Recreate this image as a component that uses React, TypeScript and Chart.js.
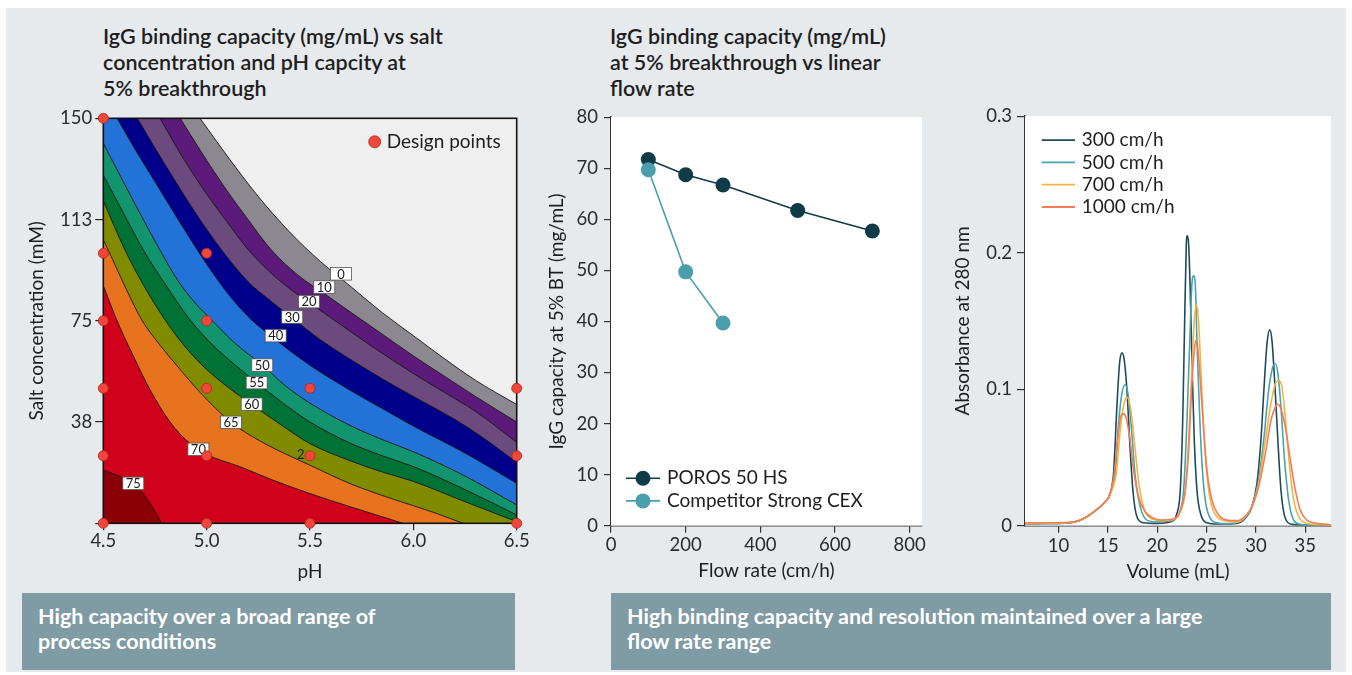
import React, { useEffect, useRef } from "react";
import { Chart, registerables } from "chart.js";

Chart.register(...registerables);

const FONT_FAMILY = "Lato, 'Noto Sans', sans-serif";
const TEXT_DARK = "#1e1e1e";
const TICK_COLOR = "#2b2b2b";
const TICK_SIZE = 18.5;
const AXIS_TITLE_SIZE = 19;
const LEGEND_SIZE = 19;

// ---------- Contour plot: IgG capacity vs pH and salt ----------
const PH_MIN = 4.5;
const PH_MAX = 6.5;
const SALT_MIN = 0;
const SALT_MAX = 150;
const PH_TICKS = [4.5, 5.0, 5.5, 6.0, 6.5];
const SALT_TICKS = [0, 37.5, 75, 112.5, 150];
const SALT_TICK_LABELS = ["", "38", "75", "113", "150"];

const CONTOUR_LEVELS = [0, 10, 20, 30, 40, 50, 55, 60, 65, 70, 75];
// fill of the band lying above each level
const BAND_COLORS = [
  "#8c8890", "#5c1a7a", "#6d4a7d", "#00008a", "#2272d8", "#12956f",
  "#007236", "#818b00", "#e8731f", "#d1001b", "#8a0006",
];
const BELOW_ZERO_COLOR = "#efefef";

// contour lines as [pH, salt mM]
const CONTOUR_0 = [[4.968, 150], [5.1, 136], [5.25, 121], [5.4, 108], [5.55, 97], [5.7, 87.5], [5.85, 78], [6.0, 69.5], [6.15, 61], [6.3, 53], [6.5, 44]];
const CONTOUR_10 = [[4.872, 150], [4.97, 138], [5.1, 123], [5.2, 112.5], [5.31, 101.5], [5.44, 92], [5.57, 85], [5.7, 78], [5.85, 70], [6.0, 62], [6.15, 54.5], [6.3, 47], [6.5, 37.5]];
const CONTOUR_20 = [[4.775, 150], [4.88, 136], [5.0, 122], [5.1, 111.5], [5.194, 102], [5.3, 93.5], [5.4, 87], [5.5, 81.5], [5.65, 73.5], [5.8, 65.5], [6.0, 55.5], [6.15, 48.5], [6.3, 41.5], [6.5, 30]];
const CONTOUR_30 = [[4.665, 150], [4.75, 139], [4.85, 126.5], [4.95, 114.5], [5.07, 101.5], [5.2, 89.5], [5.3, 83], [5.414, 76], [5.55, 68], [5.7, 60.5], [5.85, 53.5], [6.0, 47], [6.2, 38.5], [6.35, 31], [6.5, 22.5]];
const CONTOUR_40 = [[4.567, 150], [4.65, 139], [4.75, 126.5], [4.85, 114], [4.955, 101.2], [5.05, 90.5], [5.13, 82.5], [5.218, 75.3], [5.334, 68], [5.5, 58.5], [5.7, 49], [5.85, 42.5], [6.0, 36], [6.25, 26], [6.5, 14.8]];
const CONTOUR_50 = [[4.5, 140.8], [4.6, 126], [4.69, 113], [4.774, 101.2], [4.86, 90], [4.94, 82], [5.024, 75.3], [5.14, 66.5], [5.269, 58.6], [5.38, 51], [5.5, 44.5], [5.7, 36], [5.85, 31], [6.0, 26.5], [6.25, 17.5], [6.5, 6.8]];
const CONTOUR_55 = [[4.5, 129], [4.6, 114.5], [4.694, 101.2], [4.8, 88.5], [4.92, 75.3], [5.03, 66], [5.14, 58.5], [5.242, 52.1], [5.37, 44.5], [5.5, 37.5], [5.7, 29.5], [5.85, 25], [6.0, 21], [6.25, 12.5], [6.5, 3.1]];
const CONTOUR_60 = [[4.5, 119.4], [4.605, 101.2], [4.7, 87.5], [4.799, 75.3], [4.9, 65], [5.0, 57], [5.11, 50], [5.218, 44], [5.35, 37], [5.5, 29.5], [5.7, 23], [5.85, 19], [6.0, 15.5], [6.25, 8], [6.5, 0.6]];
const CONTOUR_65 = [[4.5, 105], [4.524, 101.2], [4.6, 88.5], [4.686, 75.3], [4.774, 66], [4.855, 58.5], [4.968, 48.5], [5.118, 37.4], [5.258, 30.5], [5.387, 25.5], [5.5, 21.5], [5.7, 14.5], [5.9, 9], [6.1, 4], [6.24, 0]];
const CONTOUR_70 = [[4.5, 88], [4.565, 75.3], [4.645, 62], [4.726, 49.5], [4.823, 37.5], [4.92, 29.5], [5.0, 25.5], [5.16, 21], [5.32, 16], [5.5, 11], [5.7, 6], [5.95, 0]];
const CONTOUR_75 = [[4.5, 19.7], [4.581, 17.3], [4.662, 13.6], [4.726, 7.4], [4.783, 0]];
const CONTOUR_LINES = [CONTOUR_0, CONTOUR_10, CONTOUR_20, CONTOUR_30, CONTOUR_40, CONTOUR_50, CONTOUR_55, CONTOUR_60, CONTOUR_65, CONTOUR_70, CONTOUR_75];

// inline contour labels
const LABEL_TEXT = ["0", "10", "20", "30", "40", "50", "55", "60", "65", "70", "75"];
const LABEL_PH = [5.65, 5.569, 5.495, 5.414, 5.334, 5.269, 5.242, 5.218, 5.118, 4.96, 4.645];
const LABEL_SALT = [92.4, 87.5, 82.1, 76.4, 69.5, 58.6, 52.1, 44.1, 37.4, 27.4, 14.8];
const STRAY_LABEL = { text: "2", ph: 5.455, salt: 25.4 };

// experimental design points
const DESIGN_PH = [4.5, 4.5, 4.5, 4.5, 4.5, 4.5, 5.0, 5.0, 5.0, 5.0, 5.0, 5.5, 5.5, 5.5, 6.5, 6.5, 6.5];
const DESIGN_SALT = [150, 100, 75, 50, 25, 0, 100, 75, 50, 25, 0, 50, 25, 0, 50, 25, 0];

// ---------- Capacity vs flow rate ----------
const FLOW_TICKS = [0, 200, 400, 600, 800];
const CAPACITY_TICKS = [0, 10, 20, 30, 40, 50, 60, 70, 80];
const FLOW_POROS = [100, 200, 300, 500, 700];
const CAPACITY_POROS = [71.7, 68.7, 66.7, 61.7, 57.7];
const FLOW_COMPETITOR = [100, 200, 300];
const CAPACITY_COMPETITOR = [69.7, 49.7, 39.7];
const FLOW_SERIES_NAMES = ["POROS 50 HS", "Competitor Strong CEX"];
const FLOW_SERIES_COLORS = ["#0f3b49", "#4b9fac"];

// ---------- Chromatograms at different flow rates ----------
const VOLUME_TICKS = [10, 15, 20, 25, 30, 35];
const ABS_TICKS = [0, 0.1, 0.2, 0.3];
const TRACE_NAMES = ["300 cm/h", "500 cm/h", "700 cm/h", "1000 cm/h"];
const TRACE_COLORS = ["#1c4b5b", "#4aa3b1", "#f5b342", "#f07e57"];
// [volume mL, absorbance]
const TRACE_300 = [[6.6, 0.0015], [9, 0.0016], [11, 0.002], [12, 0.0035], [12.87, 0.0066], [13.89, 0.012], [14.56, 0.0163], [15.07, 0.0207], [15.35, 0.027], [15.57, 0.038], [15.91, 0.087], [16.18, 0.119], [16.42, 0.1266], [16.66, 0.121], [16.93, 0.099], [17.2, 0.0626], [17.53, 0.026], [17.94, 0.0066], [18.6, 0.0022], [19.97, 0.0017], [21.32, 0.0029], [21.99, 0.009], [22.33, 0.026], [22.57, 0.075], [22.77, 0.148], [22.94, 0.206], [23.04, 0.2123], [23.18, 0.206], [23.34, 0.172], [23.55, 0.111], [23.75, 0.0626], [24.02, 0.026], [24.43, 0.0078], [25.03, 0.0022], [26.05, 0.0012], [28.07, 0.0017], [28.92, 0.0054], [29.59, 0.0139], [30.1, 0.031], [30.5, 0.0626], [30.84, 0.104], [31.11, 0.133], [31.39, 0.1434], [31.62, 0.1356], [31.89, 0.1064], [32.2, 0.065], [32.53, 0.026], [32.97, 0.0054], [33.65, 0.001], [35.17, 0.0005], [37.6, 0.0003]];
const TRACE_500 = [[6.6, 0.0015], [9, 0.0016], [11, 0.002], [12, 0.0035], [12.87, 0.0066], [13.89, 0.012], [14.56, 0.0163], [15.07, 0.0207], [15.4, 0.027], [15.74, 0.038], [16.08, 0.075], [16.42, 0.097], [16.76, 0.1032], [17.09, 0.094], [17.43, 0.067], [17.77, 0.036], [18.28, 0.0139], [18.95, 0.0041], [19.97, 0.0029], [21.66, 0.0041], [22.33, 0.0114], [22.67, 0.026], [23.0, 0.075], [23.28, 0.133], [23.51, 0.177], [23.68, 0.1831], [23.85, 0.177], [24.02, 0.1356], [24.26, 0.0869], [24.53, 0.0455], [24.86, 0.0187], [25.37, 0.0054], [26.05, 0.0022], [27.2, 0.0015], [28.07, 0.0022], [28.92, 0.0058], [29.59, 0.0139], [30.27, 0.0334], [30.78, 0.0626], [31.28, 0.099], [31.69, 0.116], [31.96, 0.1186], [32.23, 0.111], [32.53, 0.0869], [32.87, 0.0504], [33.31, 0.0187], [33.82, 0.0041], [34.49, 0.001], [35.5, 0.0005], [37.6, 0.0003]];
const TRACE_700 = [[6.6, 0.0017], [9, 0.0018], [11, 0.0022], [12, 0.0035], [12.87, 0.0064], [13.89, 0.0118], [14.56, 0.016], [15.07, 0.0203], [15.45, 0.027], [15.84, 0.038], [16.25, 0.07], [16.59, 0.088], [16.93, 0.0942], [17.33, 0.0845], [17.77, 0.055], [18.18, 0.0285], [18.78, 0.0102], [19.63, 0.0046], [20.3, 0.0037], [21.66, 0.0046], [22.33, 0.0102], [22.84, 0.026], [23.18, 0.0626], [23.51, 0.116], [23.75, 0.15], [23.95, 0.1617], [24.16, 0.1524], [24.36, 0.1235], [24.63, 0.082], [24.93, 0.0455], [25.37, 0.0187], [26.05, 0.0066], [27.06, 0.0034], [28.07, 0.0027], [28.92, 0.0066], [29.59, 0.0139], [30.27, 0.031], [30.95, 0.0626], [31.45, 0.0869], [31.96, 0.104], [32.3, 0.1064], [32.64, 0.1015], [32.97, 0.0796], [33.38, 0.0455], [33.82, 0.0187], [34.49, 0.0046], [35.17, 0.0017], [36.18, 0.0007], [37.6, 0.0004]];
const TRACE_1000 = [[6.6, 0.0022], [9, 0.0022], [11, 0.0025], [12, 0.0037], [12.87, 0.0066], [13.89, 0.012], [14.56, 0.0163], [15.07, 0.0207], [15.35, 0.027], [15.64, 0.038], [15.98, 0.0626], [16.25, 0.078], [16.49, 0.0821], [16.82, 0.0796], [17.2, 0.065], [17.6, 0.0407], [18.1, 0.0212], [18.78, 0.0102], [19.63, 0.0054], [20.3, 0.0042], [21.66, 0.0051], [22.33, 0.011], [22.84, 0.026], [23.18, 0.0553], [23.51, 0.104], [23.75, 0.128], [23.89, 0.1356], [24.09, 0.1308], [24.36, 0.1064], [24.7, 0.0699], [25.03, 0.0407], [25.54, 0.0187], [26.22, 0.0078], [27.06, 0.0041], [28.07, 0.0037], [28.92, 0.0071], [29.59, 0.0139], [30.27, 0.0285], [30.95, 0.0528], [31.52, 0.0772], [31.96, 0.0869], [32.2, 0.0889], [32.53, 0.0857], [32.97, 0.0723], [33.48, 0.048], [33.99, 0.026], [34.49, 0.0114], [35.17, 0.0041], [36.18, 0.0017], [37.53, 0.0007]];
const TRACES = [TRACE_300, TRACE_500, TRACE_700, TRACE_1000];

const font = (size: number, weight: string = "normal") => ({ family: FONT_FAMILY, size, weight });

const toPoints = (pts: number[][]) => pts.map(([x, y]) => ({ x, y }));

// Continue a contour straight past the plot edge so the filled band reaches the frame.
function extendContour(pts: number[][]) {
  const out = toPoints(pts);
  const [x0, y0] = pts[0];
  const [x1, y1] = pts[1];
  if (x0 > PH_MIN) {
    const s = (y1 - y0) / (x1 - x0);
    out.unshift({ x: PH_MIN, y: y0 + s * (PH_MIN - x0) });
  }
  const [xn, yn] = pts[pts.length - 1];
  const [xp, yp] = pts[pts.length - 2];
  if (xn < PH_MAX) {
    const s = (yn - yp) / (xn - xp);
    out.push({ x: PH_MAX, y: yn + s * (PH_MAX - xn) });
  }
  return out;
}

function ContourChart() {
  const ref = useRef<HTMLCanvasElement>(null);
  useEffect(() => {
    const contourSets = CONTOUR_LINES.map((pts, i) => ({
      label: `level ${CONTOUR_LEVELS[i]}`,
      data: extendContour(pts),
      borderColor: "#161616",
      borderWidth: 0.9,
      backgroundColor: BAND_COLORS[i],
      fill: "start",
      pointRadius: 0,
      cubicInterpolationMode: "monotone",
      order: 100 - i,
    }));
    const designIndex = contourSets.length;
    const designSet = {
      label: "Design points",
      data: DESIGN_PH.map((x, i) => ({ x, y: DESIGN_SALT[i] })),
      showLine: false,
      pointRadius: 5,
      pointBackgroundColor: "#f2463a",
      pointBorderColor: "#a8281e",
      pointBorderWidth: 0.8,
      clip: false,
      order: 0,
    };

    const decor = {
      id: "contourDecor",
      beforeDatasetsDraw(chart: any) {
        const { ctx, chartArea: a } = chart;
        ctx.save();
        ctx.fillStyle = BELOW_ZERO_COLOR;
        ctx.fillRect(a.left, a.top, a.width, a.height);
        ctx.restore();
      },
      beforeDatasetDraw(chart: any, args: any) {
        if (args.index !== designIndex) return;
        const { ctx, chartArea: a, scales } = chart;
        ctx.save();
        ctx.font = `13px ${FONT_FAMILY}`;
        ctx.textAlign = "center";
        ctx.textBaseline = "middle";
        LABEL_TEXT.forEach((t, i) => {
          const px = scales.x.getPixelForValue(LABEL_PH[i]);
          const py = scales.y.getPixelForValue(LABEL_SALT[i]);
          const w = 21, h = 12.5;
          ctx.fillStyle = "#ffffff";
          ctx.fillRect(px - w / 2, py - h / 2, w, h);
          ctx.strokeStyle = "#555";
          ctx.lineWidth = 0.8;
          ctx.strokeRect(px - w / 2, py - h / 2, w, h);
          ctx.fillStyle = "#1a1a1a";
          ctx.fillText(t, px, py + 0.5);
        });
        ctx.fillStyle = "#1a1a1a";
        ctx.fillText(
          STRAY_LABEL.text,
          scales.x.getPixelForValue(STRAY_LABEL.ph),
          scales.y.getPixelForValue(STRAY_LABEL.salt)
        );
        ctx.strokeStyle = "#111";
        ctx.lineWidth = 1.6;
        ctx.strokeRect(a.left, a.top, a.width, a.height);
        ctx.restore();
      },
      afterDatasetsDraw(chart: any) {
        const { ctx, chartArea: a } = chart;
        ctx.save();
        ctx.beginPath();
        ctx.arc(a.right - 142, a.top + 23.5, 6, 0, Math.PI * 2);
        ctx.fillStyle = "#f2463a";
        ctx.fill();
        ctx.strokeStyle = "#a8281e";
        ctx.lineWidth = 0.8;
        ctx.stroke();
        ctx.fillStyle = TEXT_DARK;
        ctx.font = `${LEGEND_SIZE}px ${FONT_FAMILY}`;
        ctx.textAlign = "left";
        ctx.textBaseline = "middle";
        ctx.fillText("Design points", a.right - 130, a.top + 24);
        ctx.restore();
      },
    };

    const chart = new Chart(ref.current!, {
      type: "line",
      data: { datasets: [...contourSets, designSet] as any },
      options: {
        animation: false,
        responsive: false,
        events: [],
        layout: { padding: { top: 18.3, right: 23.3, left: 0, bottom: 0 } },
        plugins: { legend: { display: false }, tooltip: { enabled: false } },
        scales: {
          x: {
            type: "linear",
            min: PH_MIN,
            max: PH_MAX,
            afterBuildTicks: (s: any) => { s.ticks = PH_TICKS.map((v) => ({ value: v })); },
            afterFit: (s: any) => { s.height = 66.7; },
            ticks: { font: font(TICK_SIZE), color: TICK_COLOR, padding: 0, maxRotation: 0, autoSkip: false, callback: (v: any) => Number(v).toFixed(1) },
            grid: { display: true, drawOnChartArea: false, drawTicks: true, tickLength: 7, color: "#222", lineWidth: 1.2 },
            border: { display: false },
            title: { display: true, text: "pH", font: font(AXIS_TITLE_SIZE), color: TEXT_DARK, padding: { top: 0, bottom: 6.6 } },
          },
          y: {
            type: "linear",
            min: SALT_MIN,
            max: SALT_MAX,
            afterBuildTicks: (s: any) => { s.ticks = SALT_TICKS.map((v) => ({ value: v })); },
            afterFit: (s: any) => { s.width = 103.3; },
            ticks: { font: font(TICK_SIZE), color: TICK_COLOR, padding: 3, autoSkip: false, callback: (v: any) => SALT_TICK_LABELS[SALT_TICKS.indexOf(Number(v))] },
            grid: { display: true, drawOnChartArea: false, drawTicks: true, tickLength: 8, color: "#222", lineWidth: 1.2 },
            border: { display: false },
            title: { display: true, text: "Salt concentration (mM)", font: font(AXIS_TITLE_SIZE), color: TEXT_DARK, padding: { top: 25.6, bottom: 0 } },
          },
        },
      } as any,
      plugins: [decor],
    });
    return () => chart.destroy();
  }, []);
  return <canvas ref={ref} width={540} height={490} style={{ position: "absolute", left: 0, top: 100 }} />;
}

function FlowRateChart() {
  const ref = useRef<HTMLCanvasElement>(null);
  useEffect(() => {
    const series = [
      toPoints(FLOW_POROS.map((x, i) => [x, CAPACITY_POROS[i]])),
      toPoints(FLOW_COMPETITOR.map((x, i) => [x, CAPACITY_COMPETITOR[i]])),
    ];
    const datasets = series.map((data, i) => ({
      label: FLOW_SERIES_NAMES[i],
      data,
      borderColor: FLOW_SERIES_COLORS[i],
      backgroundColor: FLOW_SERIES_COLORS[i],
      pointBackgroundColor: FLOW_SERIES_COLORS[i],
      borderWidth: 1.6,
      pointRadius: 7.5,
      pointBorderWidth: 0,
      fill: false,
      tension: 0,
      order: 2 - i,
    }));
    const decor = {
      id: "flowDecor",
      beforeDatasetsDraw(chart: any) {
        const { ctx, chartArea: a } = chart;
        ctx.save();
        ctx.fillStyle = "#ffffff";
        ctx.fillRect(a.left, a.top, a.width, a.height);
        ctx.restore();
      },
      afterDatasetsDraw(chart: any) {
        const { ctx, chartArea: a } = chart;
        ctx.save();
        FLOW_SERIES_NAMES.forEach((name, i) => {
          const y = a.bottom - 47.5 + i * 22.7;
          ctx.strokeStyle = FLOW_SERIES_COLORS[i];
          ctx.lineWidth = 1.6;
          ctx.beginPath();
          ctx.moveTo(a.left + 15, y);
          ctx.lineTo(a.left + 49, y);
          ctx.stroke();
          ctx.fillStyle = FLOW_SERIES_COLORS[i];
          ctx.beginPath();
          ctx.arc(a.left + 32, y, 7.5, 0, Math.PI * 2);
          ctx.fill();
          ctx.fillStyle = TEXT_DARK;
          ctx.font = `${LEGEND_SIZE}px ${FONT_FAMILY}`;
          ctx.textAlign = "left";
          ctx.textBaseline = "middle";
          ctx.fillText(name, a.left + 56, y);
        });
        ctx.restore();
      },
    };
    const chart = new Chart(ref.current!, {
      type: "line",
      data: { datasets: datasets as any },
      options: {
        animation: false,
        responsive: false,
        events: [],
        layout: { padding: { top: 15, right: 18, left: 0, bottom: 0 } },
        plugins: { legend: { display: false }, tooltip: { enabled: false } },
        scales: {
          x: {
            type: "linear",
            min: 0,
            max: 833,
            afterBuildTicks: (s: any) => { s.ticks = FLOW_TICKS.map((v) => ({ value: v })); },
            afterFit: (s: any) => { s.height = 64.3; },
            ticks: { font: font(TICK_SIZE), color: TICK_COLOR, padding: 1.2, maxRotation: 0, autoSkip: false },
            grid: { display: true, drawOnChartArea: false, drawTicks: true, tickLength: 7, color: "#333", lineWidth: 1.2 },
            border: { display: true, color: "#333", width: 1.5 },
            title: { display: true, text: "Flow rate (cm/h)", font: font(AXIS_TITLE_SIZE), color: TEXT_DARK, padding: { top: 0, bottom: 7.6 } },
          },
          y: {
            type: "linear",
            min: 0,
            max: 80,
            afterBuildTicks: (s: any) => { s.ticks = CAPACITY_TICKS.map((v) => ({ value: v })); },
            afterFit: (s: any) => { s.width = 71; },
            ticks: { font: font(TICK_SIZE), color: TICK_COLOR, padding: 6, autoSkip: false },
            grid: { display: true, drawOnChartArea: false, drawTicks: true, tickLength: 7, color: "#333", lineWidth: 1.2 },
            border: { display: true, color: "#333", width: 1.5 },
            title: { display: true, text: "IgG capacity at 5% BT (mg/mL)", font: font(AXIS_TITLE_SIZE), color: TEXT_DARK, padding: { top: 5.6, bottom: 0 } },
          },
        },
      } as any,
      plugins: [decor],
    });
    return () => chart.destroy();
  }, []);
  return <canvas ref={ref} width={400} height={490} style={{ position: "absolute", left: 540, top: 100 }} />;
}

function ChromatogramChart() {
  const ref = useRef<HTMLCanvasElement>(null);
  useEffect(() => {
    const datasets = TRACES.map((pts, i) => ({
      label: TRACE_NAMES[i],
      data: toPoints(pts),
      borderColor: TRACE_COLORS[i],
      borderWidth: 1.6,
      pointRadius: 0,
      fill: false,
      cubicInterpolationMode: "monotone",
      order: 4 - i,
    }));
    const decor = {
      id: "traceDecor",
      beforeDatasetsDraw(chart: any) {
        const { ctx, chartArea: a } = chart;
        ctx.save();
        ctx.fillStyle = "#ffffff";
        ctx.fillRect(a.left, a.top, a.width, a.height);
        ctx.restore();
      },
      afterDatasetsDraw(chart: any) {
        const { ctx, chartArea: a } = chart;
        ctx.save();
        TRACE_NAMES.forEach((name, i) => {
          const y = a.top + 24 + i * 22.3;
          ctx.strokeStyle = TRACE_COLORS[i];
          ctx.lineWidth = 1.8;
          ctx.beginPath();
          ctx.moveTo(a.left + 16.7, y);
          ctx.lineTo(a.left + 50, y);
          ctx.stroke();
          ctx.fillStyle = TEXT_DARK;
          ctx.font = `${LEGEND_SIZE}px ${FONT_FAMILY}`;
          ctx.textAlign = "left";
          ctx.textBaseline = "middle";
          ctx.fillText(name, a.left + 56.7, y);
        });
        ctx.restore();
      },
    };
    const chart = new Chart(ref.current!, {
      type: "line",
      data: { datasets: datasets as any },
      options: {
        animation: false,
        responsive: false,
        events: [],
        layout: { padding: { top: 15, right: 21, left: 0, bottom: 0 } },
        plugins: { legend: { display: false }, tooltip: { enabled: false } },
        scales: {
          x: {
            type: "linear",
            min: 6.6,
            max: 37.6,
            afterBuildTicks: (s: any) => { s.ticks = VOLUME_TICKS.map((v) => ({ value: v })); },
            afterFit: (s: any) => { s.height = 64.3; },
            ticks: { font: font(TICK_SIZE), color: TICK_COLOR, padding: 2.2, maxRotation: 0, autoSkip: false },
            grid: { display: true, drawOnChartArea: false, drawTicks: true, tickLength: 7, color: "#333", lineWidth: 1.2 },
            border: { display: true, color: "#333", width: 1.5 },
            title: { display: true, text: "Volume (mL)", font: font(AXIS_TITLE_SIZE), color: TEXT_DARK, padding: { top: 0, bottom: 6.9 } },
          },
          y: {
            type: "linear",
            min: 0,
            max: 0.3,
            afterBuildTicks: (s: any) => { s.ticks = ABS_TICKS.map((v) => ({ value: v })); },
            afterFit: (s: any) => { s.width = 85; },
            ticks: { font: font(TICK_SIZE), color: TICK_COLOR, padding: 5, autoSkip: false, callback: (v: any) => (Number(v) === 0 ? "0" : Number(v).toFixed(1)) },
            grid: { display: true, drawOnChartArea: false, drawTicks: true, tickLength: 8, color: "#333", lineWidth: 1.2 },
            border: { display: true, color: "#333", width: 1.5 },
            title: { display: true, text: "Absorbance at 280 nm", font: font(AXIS_TITLE_SIZE), color: TEXT_DARK, padding: { top: 11.9, bottom: 0 } },
          },
        },
      } as any,
      plugins: [decor],
    });
    return () => chart.destroy();
  }, []);
  return <canvas ref={ref} width={412} height={490} style={{ position: "absolute", left: 940, top: 100 }} />;
}

const titleStyle = (left: number): React.CSSProperties => ({
  position: "absolute",
  left,
  top: 23,
  fontFamily: FONT_FAMILY,
  fontSize: 21.5,
  fontWeight: 600,
  lineHeight: "26px",
  color: TEXT_DARK,
  whiteSpace: "nowrap",
});

const bannerStyle = (left: number, width: number): React.CSSProperties => ({
  position: "absolute",
  left,
  top: 593,
  width,
  height: 77,
  boxSizing: "border-box",
  padding: "11px 0 0 16px",
  background: "#7f9ca5",
  color: "#ffffff",
  fontFamily: FONT_FAMILY,
  fontSize: 21.5,
  fontWeight: 700,
  lineHeight: "25px",
  whiteSpace: "nowrap",
});

export default function App() {
  return (
    <div style={{ position: "absolute", left: 0, top: 0, width: 1352, height: 675, background: "#ffffff", overflow: "hidden" }}>
      <div style={{ position: "absolute", left: 6, top: 8, width: 1340, height: 664, background: "#e6eaed" }} />
      <div style={titleStyle(103)}>
        IgG binding capacity (mg/mL) vs salt<br />concentration and pH capcity at<br />5% breakthrough
      </div>
      <div style={titleStyle(610)}>
        IgG binding capacity (mg/mL)<br />at 5% breakthrough vs linear<br />flow rate
      </div>
      <ContourChart />
      <FlowRateChart />
      <ChromatogramChart />
      <div style={bannerStyle(22, 493)}>
        High capacity over a broad range of<br />process conditions
      </div>
      <div style={bannerStyle(611, 720)}>
        High binding capacity and resolution maintained over a large<br />flow rate range
      </div>
    </div>
  );
}
